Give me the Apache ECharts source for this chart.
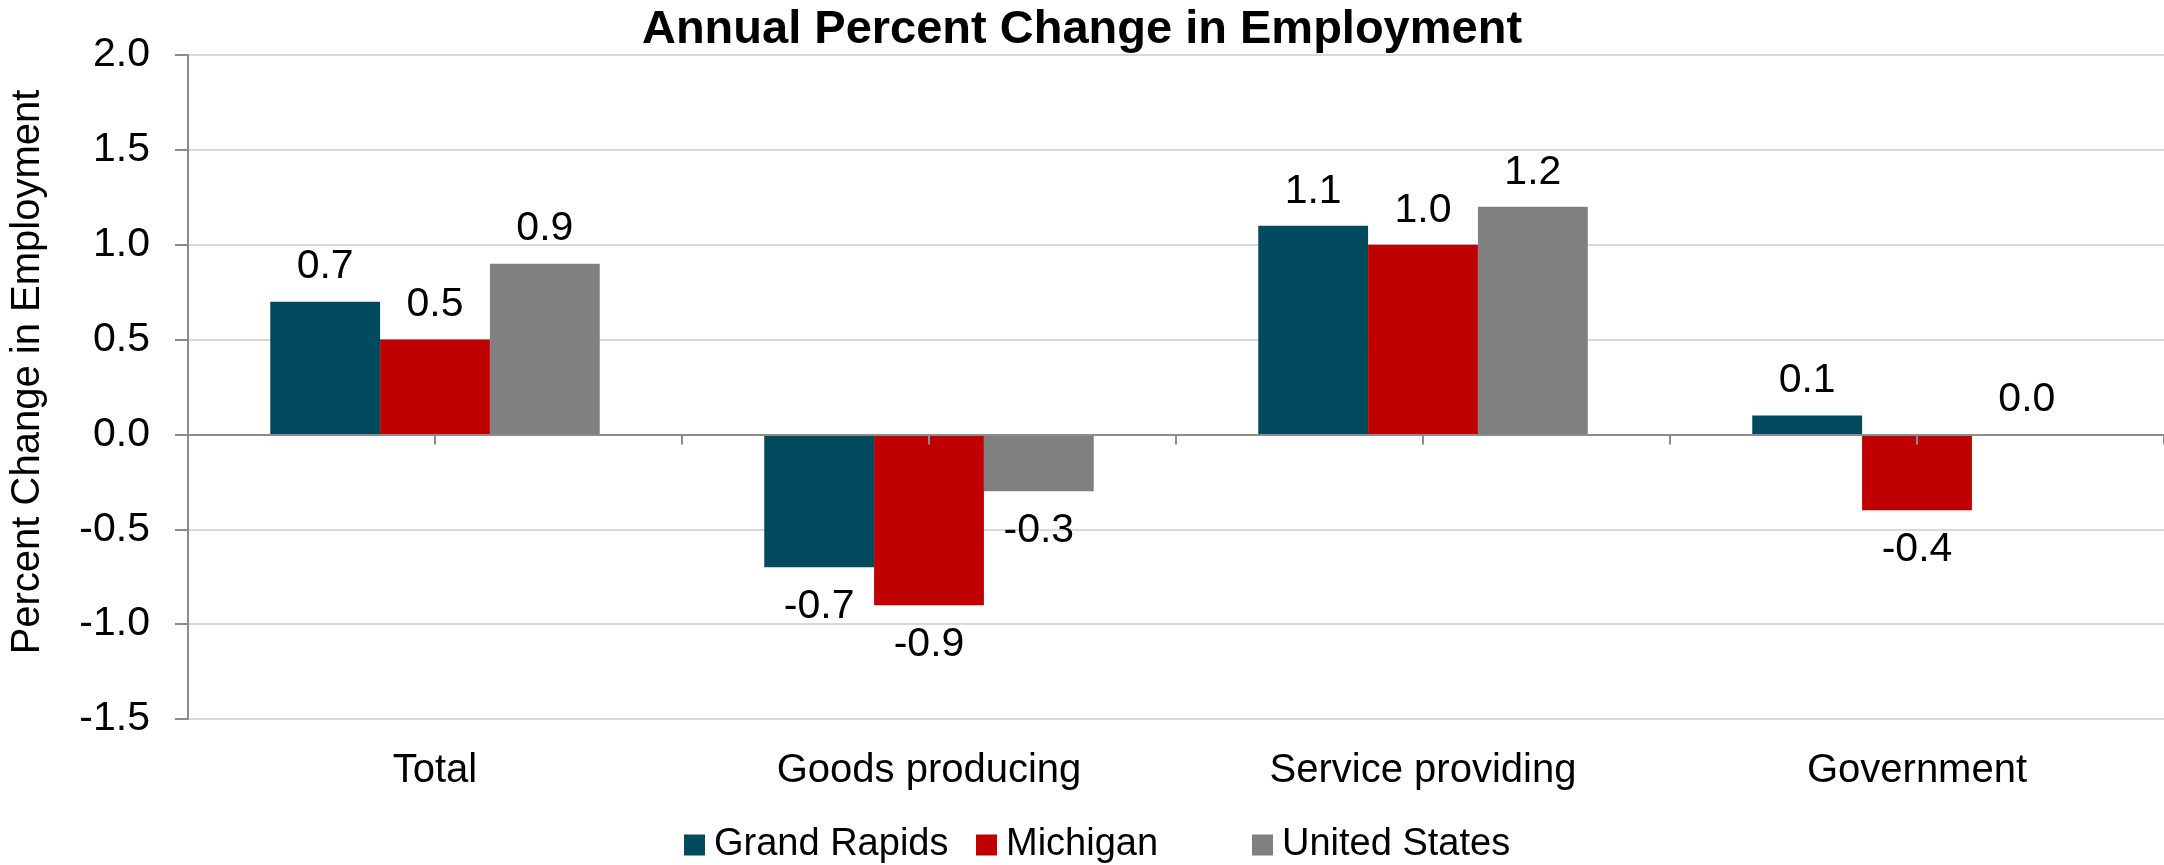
<!DOCTYPE html>
<html>
<head>
<meta charset="utf-8">
<title>Annual Percent Change in Employment</title>
<script src="https://cdn.jsdelivr.net/npm/echarts@6/dist/echarts.min.js"></script>
<style>
  html, body { margin: 0; padding: 0; background: #ffffff; }
  #chart { width: 2164px; height: 865px; }
</style>
</head>
<body>
<div id="chart"></div>
<script>
// Employment sectors shown along the category axis
const categories = ['Total', 'Goods producing', 'Service providing', 'Government'];

// Annual percent change in employment, by area
const seriesNames = ['Grand Rapids', 'Michigan', 'United States'];
const grandRapids = [0.7, -0.7, 1.1, 0.1];
const michigan = [0.5, -0.9, 1.0, -0.4];
const unitedStates = [0.9, -0.3, 1.2, 0.0];

// Value axis range and step
const yMin = -1.5;
const yMax = 2.0;
const yStep = 0.5;

const FONT = 'Liberation Sans, Arial, sans-serif';
const AXIS_GRAY = '#8c8c8c';
const COLORS = ['#024b5e', '#c00000', '#808080'];

// Each legend entry sits at its own slot so the entries are evenly spaced
const legendLefts = [684, 976, 1252];

function barSeries(name, values, color) {
  return {
    type: 'bar',
    name: name,
    xAxisIndex: 0,
    barGap: '0%',
    barCategoryGap: '33.3%',
    itemStyle: { color: color },
    label: {
      show: true,
      fontFamily: FONT,
      fontSize: 41,
      color: '#000000',
      formatter: p => Number(p.value).toFixed(1)
    },
    // positive values are labelled above the bar, negative ones below it
    data: values.map(v => ({
      value: v,
      label: v < 0 ? { position: 'bottom', distance: 19 } : { position: 'top', distance: 14 }
    }))
  };
}

// Half-category slots give tick marks at every group edge and centre
const tickSlots = new Array(categories.length * 2).fill('');

const chart = echarts.init(document.getElementById('chart'));
chart.setOption({
  animation: false,
  backgroundColor: '#ffffff',
  title: {
    text: 'Annual Percent Change in Employment',
    left: 'center',
    top: 2,
    textStyle: { fontFamily: FONT, fontWeight: 'bold', fontSize: 47, color: '#000000' }
  },
  legend: seriesNames.map((name, i) => ({
    data: [name],
    left: legendLefts[i],
    top: 826,
    padding: 0,
    icon: 'rect',
    itemWidth: 21,
    itemHeight: 21,
    textStyle: {
      fontFamily: FONT,
      fontSize: 38,
      color: '#000000',
      padding: [0, 0, 0, 4]
    }
  })),
  grid: { left: 186, right: 0, top: 55, bottom: 146, containLabel: false },
  xAxis: [
    {
      type: 'category',
      data: categories,
      position: 'bottom',
      axisLine: { show: false, onZero: false },
      axisTick: { show: false },
      axisLabel: { fontFamily: FONT, fontSize: 40, color: '#000000', margin: 32 }
    },
    {
      type: 'category',
      data: tickSlots,
      position: 'bottom',
      boundaryGap: true,
      z: 5,
      axisLine: { show: true, onZero: true, lineStyle: { color: AXIS_GRAY, width: 2 } },
      axisTick: { show: true, length: 10, interval: 0, lineStyle: { color: AXIS_GRAY, width: 2 } },
      axisLabel: { show: false },
      splitLine: { show: false }
    }
  ],
  yAxis: {
    type: 'value',
    min: yMin,
    max: yMax,
    interval: yStep,
    name: 'Percent Change in Employment',
    nameLocation: 'middle',
    nameRotate: 90,
    nameGap: 140,
    nameTextStyle: { fontFamily: FONT, fontSize: 40, color: '#000000', padding: [0, 0, 0, 30] },
    axisLine: { show: true, lineStyle: { color: AXIS_GRAY, width: 2 } },
    axisTick: { show: true, length: 13, lineStyle: { color: AXIS_GRAY, width: 2 } },
    axisLabel: {
      fontFamily: FONT,
      fontSize: 41,
      color: '#000000',
      margin: 38,
      formatter: v => v.toFixed(1)
    },
    splitLine: { show: true, lineStyle: { color: '#d9d9d9', width: 2 } }
  },
  series: [
    barSeries(seriesNames[0], grandRapids, COLORS[0]),
    barSeries(seriesNames[1], michigan, COLORS[1]),
    barSeries(seriesNames[2], unitedStates, COLORS[2])
  ]
});
</script>
</body>
</html>
